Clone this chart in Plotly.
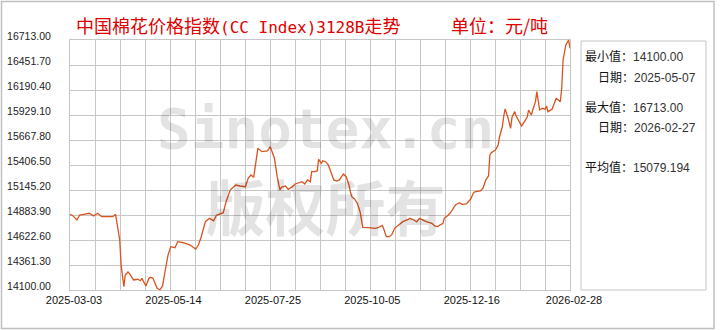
import plotly.graph_objects as go

# ---------------- data ----------------
dates = [
    "2025-03-03", "2025-03-05", "2025-03-08", "2025-03-10", "2025-03-14", "2025-03-17", "2025-03-20", "2025-03-23", "2025-03-26", "2025-03-31",
    "2025-04-03", "2025-04-05", "2025-04-06", "2025-04-08", "2025-04-09", "2025-04-11", "2025-04-12", "2025-04-14", "2025-04-15", "2025-04-18",
    "2025-04-21", "2025-04-23", "2025-04-24", "2025-04-27", "2025-04-29", "2025-04-30", "2025-05-02", "2025-05-05", "2025-05-07", "2025-05-09",
    "2025-05-11", "2025-05-13", "2025-05-15", "2025-05-18", "2025-05-20", "2025-05-24", "2025-05-29", "2025-06-02", "2025-06-04", "2025-06-06",
    "2025-06-09", "2025-06-12", "2025-06-15", "2025-06-17", "2025-06-22", "2025-06-24", "2025-06-27", "2025-07-01", "2025-07-04", "2025-07-08",
    "2025-07-10", "2025-07-12", "2025-07-14", "2025-07-15", "2025-07-17", "2025-07-20", "2025-07-22", "2025-07-24", "2025-07-26", "2025-07-27",
    "2025-07-29", "2025-07-31", "2025-08-02", "2025-08-03", "2025-08-06", "2025-08-08", "2025-08-11", "2025-08-13", "2025-08-16", "2025-08-18",
    "2025-08-20", "2025-08-22", "2025-08-24", "2025-08-25", "2025-08-27", "2025-08-29", "2025-08-30", "2025-09-01", "2025-09-02", "2025-09-04",
    "2025-09-06", "2025-09-08", "2025-09-10", "2025-09-12", "2025-09-14", "2025-09-16", "2025-09-17", "2025-09-19", "2025-09-21", "2025-09-22",
    "2025-09-23", "2025-09-25", "2025-09-27", "2025-09-29", "2025-10-01", "2025-10-05", "2025-10-10", "2025-10-12", "2025-10-15", "2025-10-16",
    "2025-10-18", "2025-10-20", "2025-10-22", "2025-10-24", "2025-10-26", "2025-10-28", "2025-10-30", "2025-11-02", "2025-11-04", "2025-11-07",
    "2025-11-09", "2025-11-11", "2025-11-13", "2025-11-16", "2025-11-20", "2025-11-22", "2025-11-24", "2025-11-26", "2025-11-28", "2025-11-29",
    "2025-12-02", "2025-12-04", "2025-12-07", "2025-12-10", "2025-12-12", "2025-12-15", "2025-12-18", "2025-12-20", "2025-12-21", "2025-12-25",
    "2025-12-27", "2025-12-29", "2025-12-31", "2026-01-01", "2026-01-02", "2026-01-05", "2026-01-07", "2026-01-08", "2026-01-10", "2026-01-11",
    "2026-01-12", "2026-01-14", "2026-01-16", "2026-01-17", "2026-01-19", "2026-01-20", "2026-01-22", "2026-01-24", "2026-01-26", "2026-01-28",
    "2026-01-29", "2026-01-31", "2026-02-01", "2026-02-03", "2026-02-04", "2026-02-05", "2026-02-06", "2026-02-08", "2026-02-10", "2026-02-11",
    "2026-02-12", "2026-02-15", "2026-02-16", "2026-02-18", "2026-02-21", "2026-02-22", "2026-02-23", "2026-02-25", "2026-02-27", "2026-02-28",
]
values = [
    14891, 14877, 14832, 14884, 14894, 14902, 14873, 14902, 14866, 14866,
    14866, 14891, 14814, 14623, 14361, 14135, 14257, 14288, 14274, 14205,
    14212, 14197, 14222, 14142, 14218, 14233, 14225, 14121, 14100, 14142,
    14309, 14466, 14553, 14542, 14605, 14594, 14570, 14528, 14570, 14657,
    14814, 14849, 14824, 14881, 14908, 15023, 15145, 15197, 15187, 15180,
    15267, 15302, 15278, 15372, 15581, 15546, 15546, 15553, 15598, 15563,
    15477, 15284, 15145, 15173, 15187, 15152, 15180, 15208, 15226, 15232,
    15208, 15250, 15232, 15337, 15337, 15344, 15466, 15424, 15451, 15441,
    15407, 15320, 15250, 15239, 15250, 15292, 15312, 15284, 15197, 15127,
    15075, 15051, 15006, 14918, 14755, 14751, 14745, 14751, 14776, 14745,
    14657, 14657, 14678, 14745, 14769, 14790, 14814, 14832, 14849, 14832,
    14811, 14849, 14832, 14814, 14797, 14769, 14762, 14779, 14797, 14849,
    14884, 14918, 14988, 15012, 14995, 14999, 15048, 15111, 15127, 15135,
    15163, 15250, 15292, 15511, 15535, 15563, 15616, 15702, 15807, 15911,
    15992, 15905, 15790, 15905, 15964, 15919, 15859, 15814, 15859, 15905,
    15981, 15929, 15981, 16068, 16173, 16086, 15981, 15999, 15989, 16023,
    15964, 15989, 16023, 16104, 16068, 16208, 16504, 16661, 16713, 16626,
]

y_tick_labels = ["14100.00", "14361.30", "14622.60", "14883.90", "15145.20", "15406.50",
                 "15667.80", "15929.10", "16190.40", "16451.70", "16713.00"]
x_tick_dates = ["2025-03-03", "2025-05-14", "2025-07-25", "2025-10-05", "2025-12-16", "2026-02-28"]
x_range = ["2025-03-03", "2026-02-28"]

title_main = "中国棉花价格指数"
title_code = "(CC Index)3128B"
title_tail = "走势"
unit_text = "单位：元/吨"
watermark_en = "Sinotex.cn"
watermark_cn = "版权所有"

stat_labels = ["最小值：", "日期：", "最大值：", "日期：", "平均值："]
stat_values = ["14100.00", "2025-05-07", "16713.00", "2026-02-27", "15079.194"]

# ---------------- layout constants ----------------
W, H = 720, 330
L, R, T, B = 70, 150, 40, 40
PW, PH = W - L - R, H - T - B


def px(x):
    return (x - L) / PW


def py(y):
    return (T + PH - y) / PH


GRID = "#c6c6c6"
LINE = "#d9531e"
RED = "#e00000"

fig = go.Figure()
fig.add_trace(go.Scatter(
    x=dates, y=values, mode="lines",
    line=dict(color=LINE, width=1.3), hoverinfo="skip", showlegend=False,
))

y_vals = [float(s) for s in y_tick_labels]
day_ms = 86400000
fig.update_xaxes(
    type="date", range=x_range,
    tickvals=x_tick_dates, ticktext=x_tick_dates,
    showgrid=False, ticks="",
    minor=dict(showgrid=True, gridcolor=GRID, gridwidth=1, tick0=x_range[0], dtick=362 * day_ms / 20),
    showline=True, mirror=True, linecolor=GRID, linewidth=1,
    tickfont=dict(family="Liberation Sans", size=11, color="#111"),
    ticklabelshift=4, zeroline=False,
)
fig.update_yaxes(
    range=[y_vals[0], y_vals[-1]],
    tickvals=y_vals, ticktext=y_tick_labels,
    showgrid=True, gridcolor=GRID, gridwidth=1, ticks="",
    showline=True, mirror=True, linecolor=GRID, linewidth=1,
    tickfont=dict(family="Liberation Sans", size=10.5, color="#222"),
    ticklabelstandoff=16, ticklabelshift=-4, zeroline=False,
)

annotations = []
# watermark (two lines in one text block)
annotations.append(dict(
    text='<span style="font-family:DejaVu Sans Mono;font-weight:bold;font-size:56px">' + watermark_en
         + '</span><br><span style="font-family:Noto Sans CJK SC;font-weight:bold;font-size:60px">' + watermark_cn + "</span>",
    x=px(325), y=py(172), xref="paper", yref="paper",
    xanchor="center", yanchor="middle", showarrow=False, align="center",
    font=dict(family="DejaVu Sans Mono", size=64, color="rgba(0,0,0,0.11)"),
))
# title
annotations.append(dict(
    text=title_main + '<span style="font-family:DejaVu Sans Mono;font-size:16px">' + title_code + "</span>" + title_tail,
    x=px(74), y=py(25), xref="paper", yref="paper", xanchor="left", yanchor="middle",
    showarrow=False, font=dict(family="Noto Sans CJK SC", size=18, color=RED),
))
annotations.append(dict(
    text=unit_text, x=px(449), y=py(25), xref="paper", yref="paper", xanchor="left", yanchor="middle",
    showarrow=False, font=dict(family="Noto Sans CJK SC", size=18, color=RED),
))
# stats panel
stat_x = [583, 596, 583, 596, 583]
stat_y = [56, 76, 106, 126, 166]
for lab, val, sx, sy in zip(stat_labels, stat_values, stat_x, stat_y):
    annotations.append(dict(
        text=lab + '<span style="font-family:Liberation Sans;color:#333">' + val + "</span>",
        x=px(sx), y=py(sy), xref="paper", yref="paper", xanchor="left", yanchor="middle",
        showarrow=False, font=dict(family="Noto Sans CJK SC", size=12, color="#111"),
    ))

shapes = [
    dict(type="rect", xref="paper", yref="paper", x0=px(581), x1=px(706), y0=py(290), y1=py(41),
         line=dict(color=GRID, width=1), fillcolor="rgba(0,0,0,0)"),
    dict(type="rect", xref="paper", yref="paper", x0=px(1.5), x1=px(714), y0=py(328.5), y1=py(1.5),
         line=dict(color="#c0c0c0", width=1.5), fillcolor="rgba(0,0,0,0)"),
]

fig.update_layout(
    width=W, height=H, margin=dict(l=L, r=R, t=T, b=B, autoexpand=False),
    paper_bgcolor="white", plot_bgcolor="white",
    annotations=annotations, shapes=shapes, showlegend=False,
)

fig.write_html("out.html")
